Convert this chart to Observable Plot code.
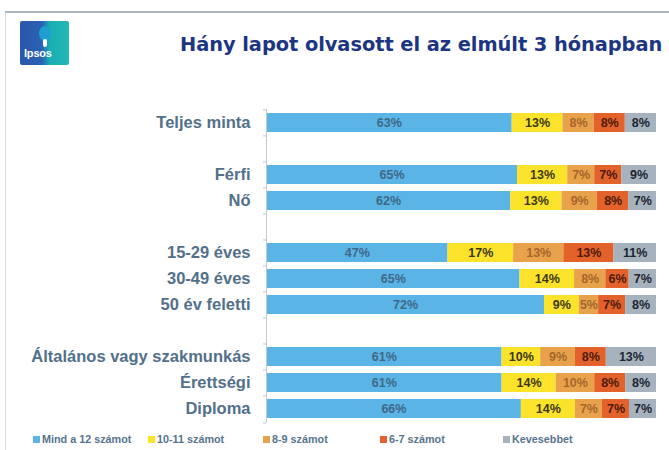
<!DOCTYPE html>
<html>
<head>
<meta charset="utf-8">
<script src="https://cdn.jsdelivr.net/npm/d3@7"></script>
<script src="https://cdn.jsdelivr.net/npm/@observablehq/plot@0.6"></script>
<style>
  html, body { margin: 0; padding: 0; background: #fff; }
  #page { position: relative; width: 669px; height: 450px; overflow: hidden; background: #fff; font-family: "Liberation Sans", Arial, sans-serif; }
  #topline { position: absolute; left: 5px; top: 11px; width: 664px; height: 2px; background: #a9b6be; }
  #leftline { position: absolute; left: 5px; top: 12px; width: 1px; height: 438px; background: #d3dbe0; }
  #logo { position: absolute; left: 20px; top: 21px; width: 49px; height: 44px; background: linear-gradient(90deg, #2a56ab 0%, #2a62b3 45%, #19aeb4 60%, #22b8b3 100%); border-radius: 2px; overflow: hidden; }
  #logo .head { position: absolute; left: 19px; top: 5px; width: 12px; height: 15px; border-radius: 50%; background: #1f9fd0; }
  #logo .neck { position: absolute; left: 23px; top: 18px; width: 4px; height: 8px; background: #fff; border-radius: 2px; }
  #logo .txt { position: absolute; left: 4px; top: 26px; color: #fff; font: bold 11px "Liberation Sans", Arial, sans-serif; letter-spacing: -0.2px; }
  #title { position: absolute; left: 180px; top: 33px; white-space: nowrap; font: bold 19.4px "DejaVu Sans", sans-serif; color: #1c3682; letter-spacing: -0.05px; }
  #chart { position: absolute; left: 0; top: 80px; }
  #legend { position: absolute; left: 0; top: 433px; width: 669px; height: 17px; }
  .li { position: absolute; top: 0; white-space: nowrap; font: bold 10.8px "Liberation Sans", Arial, sans-serif; color: #56748e; }
  .li span { display: inline-block; width: 7px; height: 7px; margin-right: 2px; vertical-align: 0px; }
</style>
</head>
<body>
<div id="page">
  <div id="topline"></div>
  <div id="leftline"></div>
  <div id="logo"><div class="head"></div><div class="neck"></div><div class="txt">Ipsos</div></div>
  <div id="title">Hány lapot olvasott el az elmúlt 3 hónapban</div>
  <div id="chart"></div>
  <div id="legend"></div>
</div>
<script>
// ---- data ----
const categories = ["Teljes minta", " ", "Férfi", "Nő", "  ", "15-29 éves", "30-49 éves", "50 év feletti", "   ", "Általános vagy szakmunkás", "Érettségi", "Diploma"];
const series = ["Mind a 12 számot", "10-11 számot", "8-9 számot", "6-7 számot", "Kevesebbet"];
const groups = ["Teljes minta", "Férfi", "Nő", "15-29 éves", "30-49 éves", "50 év feletti", "Általános vagy szakmunkás", "Érettségi", "Diploma"];
const mind12     = [63, 65, 62, 47, 65, 72, 61, 61, 66];
const tiz11      = [13, 13, 13, 17, 14,  9, 10, 14, 14];
const nyolc9     = [ 8,  7,  9, 13,  8,  5,  9, 10,  7];
const hat7       = [ 8,  7,  8, 13,  6,  7,  8,  8,  7];
const kevesebbet = [ 8,  9,  7, 11,  7,  8, 13,  8,  7];
const seriesValues = [mind12, tiz11, nyolc9, hat7, kevesebbet];

const barColors = ["#5ab4e6", "#fbe32b", "#e9a24c", "#e3622b", "#a6b3bf"];
const textColors = ["#3f6888", "#3e3816", "#a5672a", "#4e1a0a", "#1c2530"];

const rows = [];
groups.forEach((g, i) => {
  series.forEach((s, j) => {
    rows.push({group: g, series: s, value: seriesValues[j][i], tc: textColors[j]});
  });
});

const W = 669, H = 350, mT = 29, mB = 7, mL = 266, mR = 13;
const step = (H - mT - mB) / categories.length;

const stackOpts = {x: "value", y: "group", z: "series", offset: "normalize", order: series};

const chart = Plot.plot({
  width: W, height: H,
  marginLeft: mL, marginRight: mR, marginTop: mT, marginBottom: mB,
  style: {fontFamily: "Liberation Sans, Arial, sans-serif", background: "transparent"},
  x: {axis: null, domain: [0, 1]},
  y: {domain: categories, paddingInner: 0.26, paddingOuter: 0.13, label: null},
  color: {domain: series, range: barColors},
  marks: [
    Plot.barX(rows, Plot.stackX({...stackOpts, fill: "series"})),
    Plot.text(rows, Plot.stackX({...stackOpts, text: d => d.value + "%", fill: "tc", fontWeight: "bold", fontSize: 12.5})),
    Plot.ruleX([0], {stroke: "#bfcad2", strokeWidth: 1}),
    Plot.ruleY(categories, {y: d => d, x1: 0, x2: 0, dy: -step / 2, stroke: "#bfcad2"}),
    Plot.axisY({tickSize: 0, tickPadding: 16, fontSize: 16.5, fontWeight: "bold", fill: "#52708a", label: null})
  ]
});
document.getElementById("chart").appendChild(chart);

// small tick marks at band boundaries (left of axis)
const svg = d3.select(chart);
svg.selectAll("[aria-label=rule] line").each(function() {
  const l = d3.select(this);
  if (+l.attr("y1") !== +l.attr("y2")) return;
  l.attr("x1", mL - 3).attr("x2", mL);
});
svg.append("line").attr("x1", mL - 3).attr("x2", mL).attr("y1", H - mB).attr("y2", H - mB).attr("stroke", "#bfcad2");

// legend
const legendX = [33, 148, 263, 380, 503];
const leg = document.getElementById("legend");
series.forEach((s, j) => {
  const d = document.createElement("div");
  d.className = "li";
  d.style.left = legendX[j] + "px";
  d.innerHTML = `<span style="background:${barColors[j]}"></span>${s}`;
  leg.appendChild(d);
});
</script>
</body>
</html>
